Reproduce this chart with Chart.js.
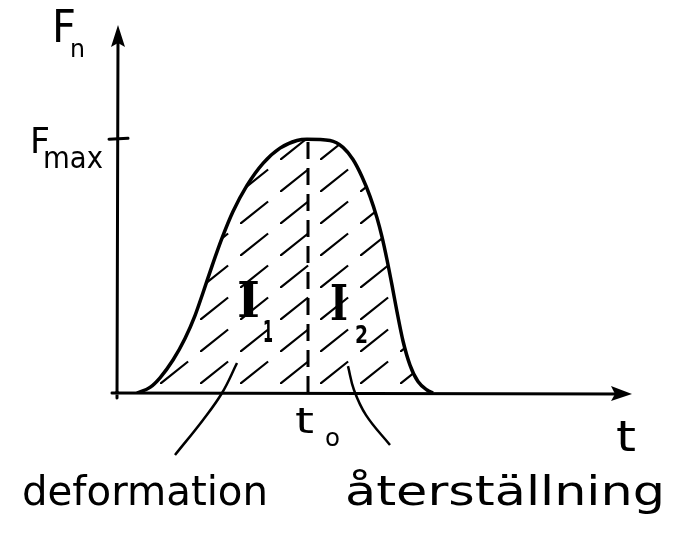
<!DOCTYPE html>
<html>
<head>
<meta charset="utf-8">
<style>
  html, body { margin: 0; padding: 0; background: #fff; }
  #wrap { width: 689px; height: 556px; }
</style>
<script src="https://cdn.jsdelivr.net/npm/chart.js@4.4.1/dist/chart.umd.min.js"></script>
</head>
<body>
<div id="wrap"><canvas id="impulse"></canvas></div>
<script>
// Kraftpuls F_n(t): deformation fram till t0, återställning efter t0.
var T_VALUES = [4.0, 6.6, 8.6, 11.2, 13.6, 15.6, 17.2, 19.0, 21.0, 23.2, 26.0, 29.2, 32.6, 36.0, 38.0,
                42.6, 45.2, 47.2, 49.0, 50.6, 52.0, 53.0, 54.0, 55.0, 56.0, 57.2, 58.6, 60.2, 62.0, 63.2];
var F_VALUES = [0, 0.022, 0.060, 0.130, 0.215, 0.305, 0.395, 0.500, 0.610, 0.715, 0.818, 0.905, 0.965, 0.995, 1.0,
                0.995, 0.968, 0.920, 0.852, 0.775, 0.690, 0.615, 0.525, 0.425, 0.320, 0.205, 0.110, 0.045, 0.012, 0];
var T0 = 38.2;
var F_MAX = 1.0;
var T_RANGE = [0, 103];
var F_RANGE = [0, 1.45];

// hänvisningslinjer från texterna upp in i ytorna I1 / I2
var LEADER_DEF_T = [24, 21, 17.2, 11.6];
var LEADER_DEF_F = [0.118, 0, -0.106, -0.244];
var LEADER_ATER_T = [46.2, 47.4, 49.8, 54.6];
var LEADER_ATER_F = [0.106, 0.012, -0.087, -0.205];

var PHASE_LABELS = ['deformation', 'återställning'];

var SANS = '"DejaVu Sans", sans-serif';
var SERIF = '"DejaVu Serif", serif';

function pts(ts, fs) {
  return ts.map(function (t, i) { return { x: t, y: fs[i] }; });
}

// diagonal streckning (snett uppåt höger, lite avbruten)
function hatchPattern(ctx) {
  var w = 40, h = 32;
  var c = document.createElement('canvas');
  c.width = w; c.height = h;
  var g = c.getContext('2d');
  g.strokeStyle = '#000';
  g.lineWidth = 2.2;
  g.setLineDash([36, 15.2]);
  g.beginPath();
  g.moveTo(0, h);
  g.lineTo(w, 0);
  g.stroke();
  return ctx.createPattern(c, 'repeat');
}

// text som tryckts ihop/dragits ut till en given bredd
function fitText(ctx, text, x, base, size, width, font, weight) {
  ctx.save();
  ctx.font = (weight || 'normal') + ' ' + size + 'px ' + (font || SANS);
  var m = ctx.measureText(text).width;
  ctx.translate(x, base);
  if (width) ctx.scale(width / m, 1);
  ctx.fillText(text, 0, 0);
  ctx.restore();
}

var sketch = {
  id: 'sketch',
  beforeDraw: function (chart) {
    var ctx = chart.ctx;
    ctx.save();
    ctx.fillStyle = '#fff';
    ctx.fillRect(0, 0, chart.width, chart.height);
    ctx.restore();
  },
  afterDatasetsDraw: function (chart) {
    var ctx = chart.ctx, xs = chart.scales.x, ys = chart.scales.y;
    var ax = xs.getPixelForValue(T_RANGE[0]);
    var ay = ys.getPixelForValue(F_RANGE[0]);
    var xEnd = xs.getPixelForValue(T_RANGE[1]);
    var yTop = ys.getPixelForValue(F_RANGE[1]);
    var yMax = ys.getPixelForValue(F_MAX);
    var xT0 = xs.getPixelForValue(T0);

    ctx.save();
    ctx.strokeStyle = '#000';
    ctx.fillStyle = '#000';
    ctx.lineWidth = 3;
    ctx.lineCap = 'round';

    // axlar
    ctx.beginPath();
    ctx.moveTo(ax, ay + 5);
    ctx.lineTo(ax + 1, yTop + 12);
    ctx.moveTo(ax - 5, ay);
    ctx.lineTo(xEnd - 10, ay + 1);
    ctx.stroke();

    // pilspetsar
    ctx.beginPath();
    ctx.moveTo(ax + 1, yTop);
    ctx.lineTo(ax - 6, yTop + 22);
    ctx.lineTo(ax + 1, yTop + 18);
    ctx.lineTo(ax + 8, yTop + 22);
    ctx.closePath();
    ctx.fill();
    ctx.beginPath();
    ctx.moveTo(xEnd, ay + 1);
    ctx.lineTo(xEnd - 21, ay - 7);
    ctx.lineTo(xEnd - 17, ay + 1);
    ctx.lineTo(xEnd - 21, ay + 8);
    ctx.closePath();
    ctx.fill();

    // markering vid F_max
    ctx.beginPath();
    ctx.moveTo(ax - 8, yMax);
    ctx.lineTo(ax + 11, yMax - 1);
    ctx.stroke();

    // axeltexter
    fitText(ctx, 'F', ax - 65, yTop + 17, 44, 24);
    fitText(ctx, 'n', ax - 47, yTop + 32, 24, 15);
    fitText(ctx, 'F', ax - 87, yMax + 14, 36, 20);
    fitText(ctx, 'max', ax - 74, yMax + 29, 30, 60);
    fitText(ctx, 't', xEnd - 16, ay + 58, 42, 20);
    fitText(ctx, 't', xT0 - 13, ay + 40, 36, 19);
    fitText(ctx, 'o', xT0 + 17, ay + 53, 24, 15);

    // ytor
    fitText(ctx, 'I', xT0 - 71, ay - 76, 48, 23, SERIF, 'bold');
    fitText(ctx, '1', xT0 - 45, ay - 51, 30, 10, SANS, 'bold');
    fitText(ctx, 'I', xT0 + 22, ay - 73, 48, 18, SERIF, 'bold');
    fitText(ctx, '2', xT0 + 47, ay - 50, 25, 13, SANS, 'bold');

    // fasnamn
    fitText(ctx, PHASE_LABELS[0], 22, ay + 112, 40, 246);
    fitText(ctx, PHASE_LABELS[1], 345, ay + 112, 40, 320);
    ctx.restore();
  }
};

var ctx = document.getElementById('impulse').getContext('2d');
var lineStyle = { borderColor: '#000', pointRadius: 0, showLine: true, fill: false };

new Chart(ctx, {
  type: 'scatter',
  data: {
    datasets: [
      Object.assign({}, lineStyle, {
        label: 'F_n',
        data: pts(T_VALUES, F_VALUES),
        borderWidth: 3.5,
        cubicInterpolationMode: 'monotone',
        fill: 'origin',
        backgroundColor: hatchPattern(ctx)
      }),
      Object.assign({}, lineStyle, {
        label: 't0',
        data: pts([T0, T0], [0, F_MAX]),
        borderWidth: 3,
        borderDash: [17, 9]
      }),
      Object.assign({}, lineStyle, {
        label: 'deformation',
        data: pts(LEADER_DEF_T, LEADER_DEF_F),
        borderWidth: 2.5,
        tension: 0.4,
        clip: false
      }),
      Object.assign({}, lineStyle, {
        label: 'återställning',
        data: pts(LEADER_ATER_T, LEADER_ATER_F),
        borderWidth: 2.5,
        tension: 0.4,
        clip: false
      })
    ]
  },
  options: {
    responsive: true,
    maintainAspectRatio: false,
    animation: false,
    events: [],
    layout: { padding: { left: 117, right: 57, top: 25, bottom: 163 } },
    plugins: { legend: { display: false }, tooltip: { enabled: false } },
    scales: {
      x: { type: 'linear', display: false, min: T_RANGE[0], max: T_RANGE[1] },
      y: { type: 'linear', display: false, min: F_RANGE[0], max: F_RANGE[1] }
    }
  },
  plugins: [sketch]
});
</script>
</body>
</html>
